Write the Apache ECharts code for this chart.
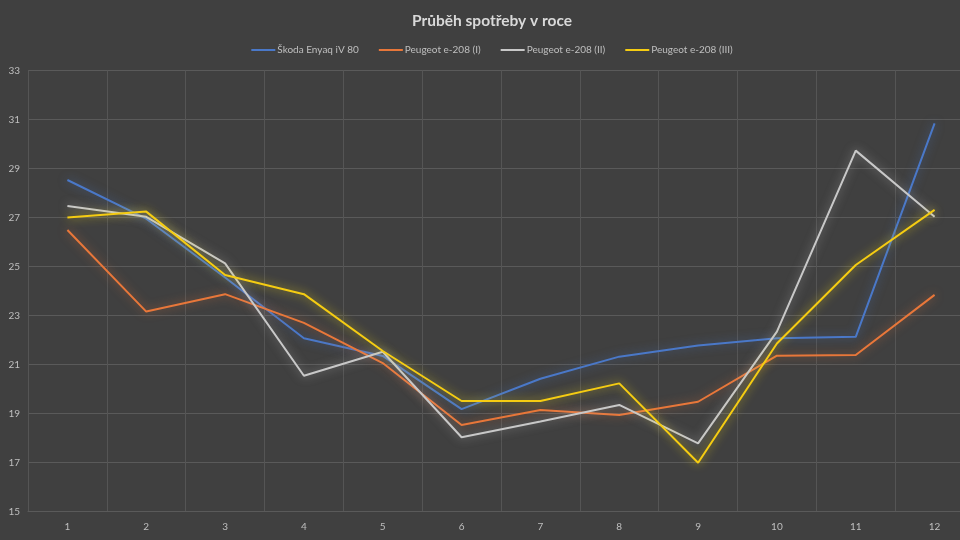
<!DOCTYPE html>
<html>
<head>
<meta charset="utf-8">
<script src="https://cdn.jsdelivr.net/npm/echarts@6/dist/echarts.min.js"></script>
<style>
html,body{margin:0;padding:0;background:#404040;overflow:hidden;width:960px;height:540px;}
#c{width:984px;height:540px;}
</style>
</head>
<body>
<div id="c"></div>
<script>
const categories = ['1','2','3','4','5','6','7','8','9','10','11','12'];
const seriesNames = ['Škoda Enyaq iV 80','Peugeot e-208 (I)','Peugeot e-208 (II)','Peugeot e-208 (III)'];
const skoda   = [28.53, 26.95, 24.55, 22.07, 21.35, 19.18, 20.42, 21.32, 21.78, 22.07, 22.13, 30.84];
const peugeot1 = [26.49, 23.16, 23.87, 22.70, 21.06, 18.53, 19.14, 18.94, 19.48, 21.36, 21.39, 23.84];
const peugeot2 = [27.47, 27.03, 25.13, 20.54, 21.52, 18.03, 18.67, 19.35, 17.78, 22.34, 29.73, 27.03];
const peugeot3 = [27.00, 27.24, 24.65, 23.87, 21.55, 19.51, 19.51, 20.23, 16.99, 21.86, 25.06, 27.31];
const yTicks = {min: 15, max: 33, interval: 2};

const colors = ['#4a78c8', '#e8773a', '#c8c8c8', '#f5cc12'];
const glows = ['rgba(74,120,200,0.6)', 'rgba(232,119,58,0.6)', 'rgba(220,220,220,0.5)', 'rgba(245,220,20,0.75)'];
const data = [skoda, peugeot1, peugeot2, peugeot3];

const chart = echarts.init(document.getElementById('c'), null, {renderer: 'canvas', width: 984, height: 540});
chart.setOption({
  backgroundColor: '#404040',
  animation: false,
  color: colors,
  title: {
    text: 'Průběh spotřeby v roce',
    left: 'center',
    top: 8,
    textStyle: {color: '#d9d9d9', fontFamily: 'Lato', fontWeight: 'bold', fontSize: 15.5}
  },
  legend: {
    top: 40,
    left: 'center',
    itemWidth: 24,
    itemHeight: 2,
    itemGap: 20,
    icon: 'rect',
    textStyle: {color: '#bfbfbf', fontFamily: 'Lato', fontSize: 10, padding: [0, 0, 0, -3]},
    data: seriesNames
  },
  grid: {left: 28, top: 70.5, width: 946, height: 441, containLabel: false},
  xAxis: {
    type: 'category',
    data: categories,
    boundaryGap: true,
    axisLine: {show: true, lineStyle: {color: '#5a5a5a', width: 1}},
    axisTick: {show: false},
    axisLabel: {color: '#bfbfbf', fontFamily: 'Lato', fontSize: 10, margin: 10},
    splitLine: {show: true, lineStyle: {color: '#555555', width: 1}}
  },
  yAxis: {
    type: 'value',
    min: yTicks.min,
    max: yTicks.max,
    interval: yTicks.interval,
    axisLine: {show: false},
    axisTick: {show: false},
    axisLabel: {color: '#bfbfbf', fontFamily: 'Lato', fontSize: 10, margin: 8},
    splitLine: {show: true, lineStyle: {color: '#5a5a5a', width: 1}}
  },
  series: seriesNames.map((n, i) => ({
    name: n,
    type: 'line',
    data: data[i],
    symbol: 'none',
    smooth: false,
    z: i === 3 ? 5 : 3,
    lineStyle: {color: colors[i], width: 2, shadowBlur: 10, shadowColor: glows[i]}
  }))
});
</script>
</body>
</html>
